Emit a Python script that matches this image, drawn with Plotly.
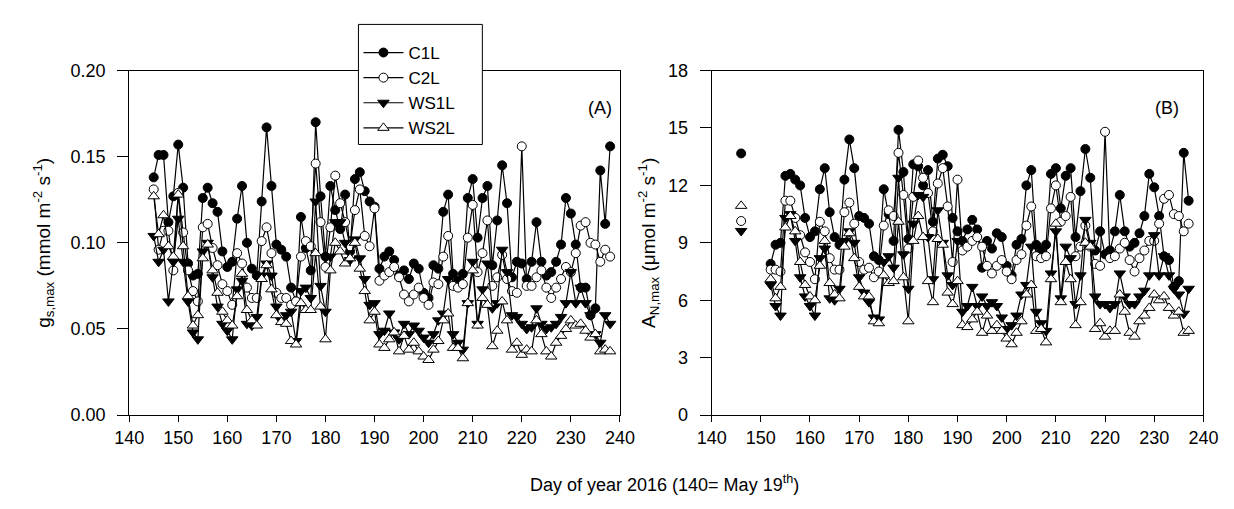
import plotly.graph_objects as go

# ---------------- data ----------------
days_A = list(range(145, 239))
C1L_A = [0.138,0.151,0.151,0.112,0.127,0.157,0.132,0.088,0.081,0.082,
         0.126,0.132,0.123,0.118,0.095,0.086,0.089,0.114,0.133,0.100,
         0.085,0.081,0.124,0.167,0.133,0.099,0.096,0.092,0.074,0.066,
         0.115,0.097,0.084,0.170,0.127,0.092,0.133,0.119,0.108,0.128,
         0.095,0.137,0.141,0.130,0.124,0.121,0.085,0.092,0.095,0.090,
         0.081,0.084,0.079,0.088,0.085,0.071,0.068,0.087,0.085,0.118,
         0.128,0.082,0.078,0.082,0.126,0.137,0.103,0.126,0.133,0.087,
         0.113,0.145,0.123,0.080,0.089,0.088,0.079,0.089,0.112,0.089,
         0.081,0.083,0.089,0.099,0.126,0.117,0.099,0.074,0.074,0.058,
         0.062,0.142,0.111,0.156]
C2L_A = [0.131,0.096,0.107,0.107,0.084,0.129,0.106,0.084,0.072,0.066,
         0.109,0.111,0.097,0.087,0.076,0.072,0.064,0.094,0.088,0.074,
         0.068,0.068,0.101,0.109,0.094,0.071,0.068,0.068,0.064,0.066,
         0.092,0.101,0.098,0.146,0.112,0.086,0.109,0.139,0.123,0.112,
         0.098,0.119,0.131,0.104,0.098,0.120,0.078,0.081,0.083,0.086,
         0.080,0.070,0.066,0.070,0.074,0.068,0.064,0.077,0.076,0.092,
         0.104,0.075,0.074,0.076,0.103,0.122,0.083,0.094,0.113,0.075,
         0.080,0.093,0.079,0.072,0.071,0.156,0.075,0.075,0.080,0.084,
         0.074,0.068,0.074,0.079,0.086,0.083,0.094,0.110,0.112,0.100,
         0.099,0.089,0.096,0.092]
WS1L_A = [0.104,0.089,0.096,0.066,0.089,0.114,0.089,0.066,0.048,0.044,
          0.095,0.100,0.080,0.063,0.053,0.049,0.044,0.073,0.078,0.053,
          0.052,0.057,0.081,0.088,0.081,0.063,0.055,0.058,0.060,0.043,
          0.072,0.074,0.068,0.124,0.075,0.060,0.092,0.112,0.112,0.100,
          0.090,0.102,0.091,0.079,0.064,0.065,0.047,0.049,0.059,0.048,
          0.044,0.053,0.047,0.052,0.049,0.045,0.042,0.047,0.055,0.059,
          0.079,0.047,0.042,0.038,0.065,0.089,0.053,0.073,0.088,0.062,
          0.065,0.096,0.083,0.058,0.057,0.053,0.050,0.051,0.062,0.053,
          0.050,0.051,0.053,0.057,0.065,0.083,0.065,0.074,0.065,0.058,
          0.047,0.042,0.058,0.053]
WS2L_A = [0.127,0.105,0.116,0.098,0.092,0.128,0.098,0.069,0.052,0.058,
          0.091,0.099,0.084,0.071,0.060,0.055,0.052,0.069,0.082,0.061,
          0.055,0.052,0.079,0.087,0.073,0.058,0.054,0.053,0.043,0.041,
          0.065,0.061,0.061,0.094,0.063,0.044,0.084,0.100,0.095,0.088,
          0.091,0.100,0.085,0.072,0.055,0.060,0.041,0.039,0.044,0.048,
          0.037,0.046,0.038,0.042,0.037,0.034,0.032,0.038,0.043,0.055,
          0.059,0.039,0.039,0.033,0.065,0.084,0.052,0.068,0.064,0.040,
          0.049,0.066,0.055,0.038,0.042,0.035,0.038,0.037,0.055,0.047,
          0.037,0.034,0.042,0.046,0.050,0.055,0.052,0.053,0.049,0.045,
          0.047,0.037,0.038,0.037]

day_B_single = 146
single_B = {"C1L": 13.67, "C2L": 10.14, "WS1L": 9.62, "WS2L": 10.93}
days_B = list(range(152, 238))
C1L_B = [7.9,8.9,9.0,12.5,12.6,12.3,12.0,10.3,9.3,9.6,
         11.8,12.9,10.6,9.3,8.9,12.3,14.4,12.9,10.4,10.3,
         10.0,8.3,8.1,11.8,10.5,9.1,14.9,12.7,9.2,13.1,
         13.0,12.0,12.8,10.1,13.4,13.6,13.0,10.3,9.6,9.1,
         9.7,10.2,9.7,7.7,9.1,8.7,9.5,9.3,7.8,7.3,
         8.9,9.2,12.0,12.8,8.9,8.6,8.9,12.6,12.9,10.8,
         12.5,12.9,9.3,11.7,13.9,12.4,8.6,9.6,8.4,8.6,
         9.6,11.5,9.6,8.8,9.0,9.5,10.4,12.6,11.9,10.4,
         8.3,8.1,6.7,7.0,13.7,11.2]
C2L_B = [7.6,7.6,7.5,11.2,11.2,10.3,9.4,8.5,8.0,7.1,
         10.1,9.6,8.2,7.6,7.6,10.6,11.1,10.0,8.0,7.6,
         7.7,7.2,7.5,9.9,10.7,10.4,13.7,11.5,8.7,11.4,
         13.3,12.4,11.6,9.6,12.1,12.9,10.9,8.0,12.3,8.6,
         8.8,9.1,9.3,8.8,7.8,7.4,7.8,8.1,7.5,7.1,
         8.1,8.4,9.9,10.9,8.3,8.2,8.3,10.8,12.0,10.1,
         10.4,11.4,8.3,8.8,9.9,8.8,7.9,7.8,14.8,8.2,
         8.3,8.7,9.0,8.1,7.5,8.2,8.6,9.1,9.1,10.0,
         11.3,11.5,10.5,10.4,9.6,10.0]
WS1L_B = [6.8,5.7,5.2,10.3,10.5,9.1,7.2,6.2,5.7,5.2,
          8.2,8.7,6.1,6.0,6.6,9.1,9.6,9.0,7.2,6.4,
          5.9,5.1,5.0,8.0,8.3,7.7,12.4,8.4,6.6,10.0,
          11.5,11.4,9.3,7.1,10.7,9.0,7.3,6.8,9.1,5.4,
          5.7,6.7,5.7,6.2,5.7,5.9,5.7,5.1,4.5,4.7,
          5.2,6.3,6.8,8.8,5.4,4.8,4.4,7.4,9.6,6.1,
          8.8,8.2,5.8,7.3,10.2,9.0,6.2,5.8,5.8,5.6,
          5.8,7.4,6.2,5.8,5.8,6.2,6.5,7.3,9.4,7.3,
          8.3,7.3,6.6,6.3,5.3,6.6]
WS2L_B = [7.1,6.1,6.7,9.8,10.4,9.6,8.0,6.8,6.2,6.0,
          7.8,9.1,6.9,6.3,6.1,8.8,9.5,8.2,6.7,6.2,
          6.2,4.9,4.8,7.3,6.9,7.0,10.1,7.2,4.9,9.1,
          10.4,9.3,7.0,5.9,9.2,8.9,6.4,5.8,7.0,4.7,
          4.6,5.0,5.4,4.3,5.2,4.4,4.7,4.4,4.0,3.7,
          4.3,4.9,6.3,6.8,4.4,4.5,3.8,7.1,10.0,5.9,
          8.0,7.1,4.7,5.9,9.0,8.8,4.5,4.8,4.1,4.4,
          4.4,6.3,5.4,4.3,4.1,4.9,5.2,5.6,6.3,6.0,
          6.2,5.6,5.2,5.4,4.3,4.4]

x_ticks = [140, 150, 160, 170, 180, 190, 200, 210, 220, 230, 240]

# ---------------- styling ----------------
W, H = 1234, 509
FONT = "Liberation Sans, Arial, sans-serif"
styles = {
    "C1L": dict(symbol="circle", color="black", size=9),
    "C2L": dict(symbol="circle", color="white", size=9),
    "WS1L": dict(symbol="triangle-down", color="black", size=10),
    "WS2L": dict(symbol="triangle-up", color="white", size=10),
}
series_A = {"C1L": C1L_A, "C2L": C2L_A, "WS1L": WS1L_A, "WS2L": WS2L_A}
series_B = {"C1L": C1L_B, "C2L": C2L_B, "WS1L": WS1L_B, "WS2L": WS2L_B}

fig = go.Figure()
for name, vals in series_A.items():
    st = styles[name]
    fig.add_trace(go.Scatter(
        x=days_A, y=vals, mode="lines+markers", name=name,
        line=dict(color="black", width=1.2),
        marker=dict(symbol=st["symbol"], color=st["color"], size=st["size"],
                    line=dict(color="black", width=1)),
        xaxis="x", yaxis="y", showlegend=True))
for name, vals in series_B.items():
    st = styles[name]
    fig.add_trace(go.Scatter(
        x=[day_B_single, None] + days_B, y=[single_B[name], None] + vals,
        mode="lines+markers", name=name,
        line=dict(color="black", width=1.2),
        marker=dict(symbol=st["symbol"], color=st["color"], size=st["size"],
                    line=dict(color="black", width=1)),
        xaxis="x2", yaxis="y2", showlegend=False))

ydom = [(H - 421.7) / H, (H - 63) / H]
axis_common = dict(showline=True, linecolor="black", linewidth=1, mirror=True,
                   showgrid=False, zeroline=False, ticks="outside",
                   tickcolor="black", tickfont=dict(family=FONT, size=18, color="black"))

fig.update_layout(
    width=W, height=H, margin=dict(l=0, r=0, t=0, b=0),
    paper_bgcolor="white", plot_bgcolor="white",
    font=dict(family=FONT, size=18, color="black"),
    xaxis=dict(domain=[117 / W, 620 / W], range=[140, 240], tickvals=x_ticks,
               ticklen=6, **axis_common),
    yaxis=dict(domain=ydom, range=[0, 0.2], dtick=0.05, tickformat=".2f",
               ticklen=11, anchor="x", ticklabelstandoff=8,
               title=dict(text="g<sub>s,max</sub> (mmol m<sup>-2</sup> s<sup>-1</sup>)",
                          font=dict(family=FONT, size=19), standoff=14),
               **axis_common),
    xaxis2=dict(domain=[714 / W, 1218 / W], range=[140, 240], tickvals=x_ticks,
                ticklen=6, anchor="y2", **axis_common),
    yaxis2=dict(domain=ydom, range=[0, 18], dtick=3, ticklen=11, anchor="x2",
                ticklabelstandoff=8,
                title=dict(text="A<sub>N,max</sub> (\u03bcmol m<sup>-2</sup> s<sup>-1</sup>)",
                           font=dict(family=FONT, size=19), standoff=7),
                **axis_common),
    legend=dict(x=352 / W, y=1 - 26 / H, xanchor="left", yanchor="top",
                bgcolor="rgba(0,0,0,0)", borderwidth=0,
                font=dict(family=FONT, size=17, color="black"),
                itemwidth=40, tracegroupgap=0),
    shapes=[dict(type="rect", xref="paper", yref="paper",
                 x0=352 / W, x1=479 / W, y0=1 - 140 / H, y1=1 - 15 / H,
                 line=dict(color="black", width=1), fillcolor="white", layer="above")],
    annotations=[
        dict(text="(A)", x=600 / W, y=1 - 90 / H, xref="paper", yref="paper",
             showarrow=False, font=dict(family=FONT, size=18)),
        dict(text="(B)", x=1195 / W, y=1 - 90 / H, xref="paper", yref="paper",
             showarrow=False, font=dict(family=FONT, size=18)),
        dict(text="Day of year 2016 (140= May 19<sup>th</sup>)", x=666 / W, y=1 - 507 / H,
             xref="paper", yref="paper", xanchor="center", yanchor="bottom",
             showarrow=False, font=dict(family=FONT, size=18)),
    ],
)

fig.write_html("out.html")
